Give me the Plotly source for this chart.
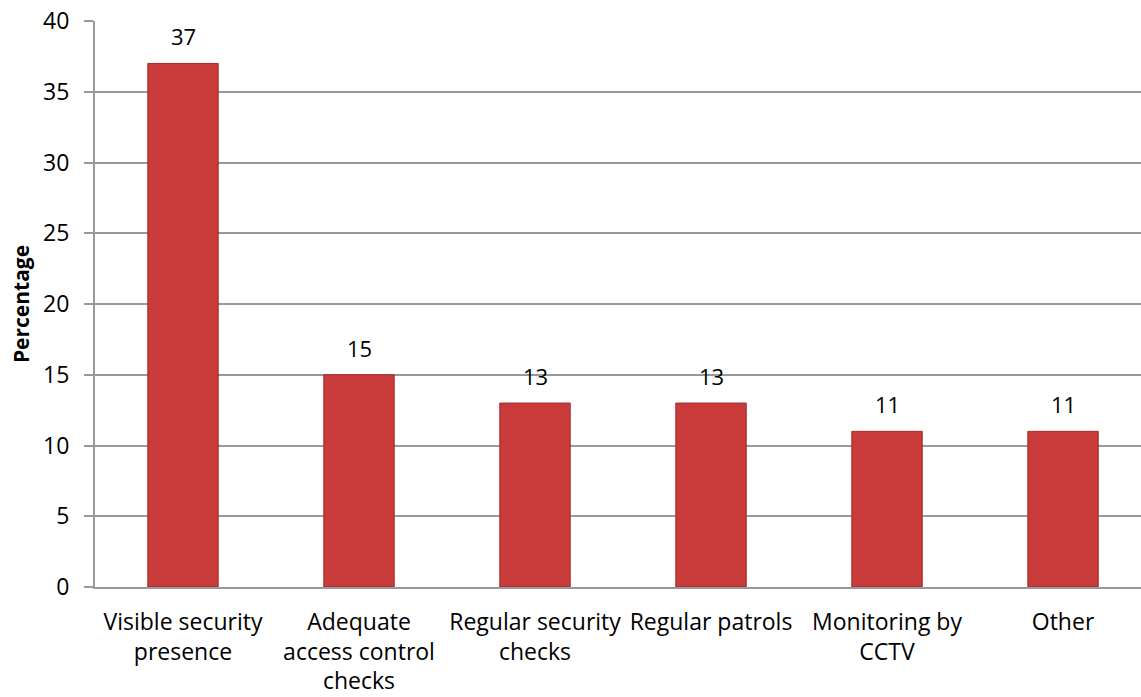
import plotly.graph_objects as go

categories = ["Visible security<br>presence", "Adequate<br>access control<br>checks",
              "Regular security<br>checks", "Regular patrols", "Monitoring by<br>CCTV", "Other"]
values = [37, 15, 13, 13, 11, 11]
y_ticks = [0, 5, 10, 15, 20, 25, 30, 35, 40]

FONT = "Open Sans"

fig = go.Figure()
fig.add_trace(go.Bar(
    x=list(range(len(categories))), y=values, width=0.4,
    marker=dict(color="#c93b3b", line=dict(color="#a52a2a", width=1)),
    hoverinfo="skip",
))
for i, v in enumerate(values):
    fig.add_annotation(x=i, y=v, text=str(v), showarrow=False, yanchor="bottom",
                       yshift=10, font=dict(family=FONT, size=22, color="#000"))

fig.update_layout(
    width=1141, height=697,
    margin=dict(l=95, r=0, t=21, b=110),
    paper_bgcolor="white", plot_bgcolor="white",
    showlegend=False,
    font=dict(family=FONT, size=22, color="#000"),
)
fig.update_xaxes(
    tickmode="array", tickvals=list(range(len(categories))), ticktext=categories,
    range=[-0.5, 5.443], showgrid=False, showline=True, linecolor="#999", linewidth=2,
    ticks="", tickfont=dict(family=FONT, size=23), ticklabelstandoff=13, zeroline=False,
)
fig.update_yaxes(
    range=[0, 40], tickvals=y_ticks, showgrid=True, gridcolor="#999", gridwidth=1.5,
    showline=True, linecolor="#999", linewidth=2, ticks="outside", ticklen=9,
    tickcolor="#999", tickwidth=2, zeroline=False, ticklabelstandoff=10,
    tickfont=dict(family=FONT, size=23),
    title=dict(text="<b>Percentage</b>", font=dict(family=FONT, size=21), standoff=8),
)
fig.write_html("out.html")
